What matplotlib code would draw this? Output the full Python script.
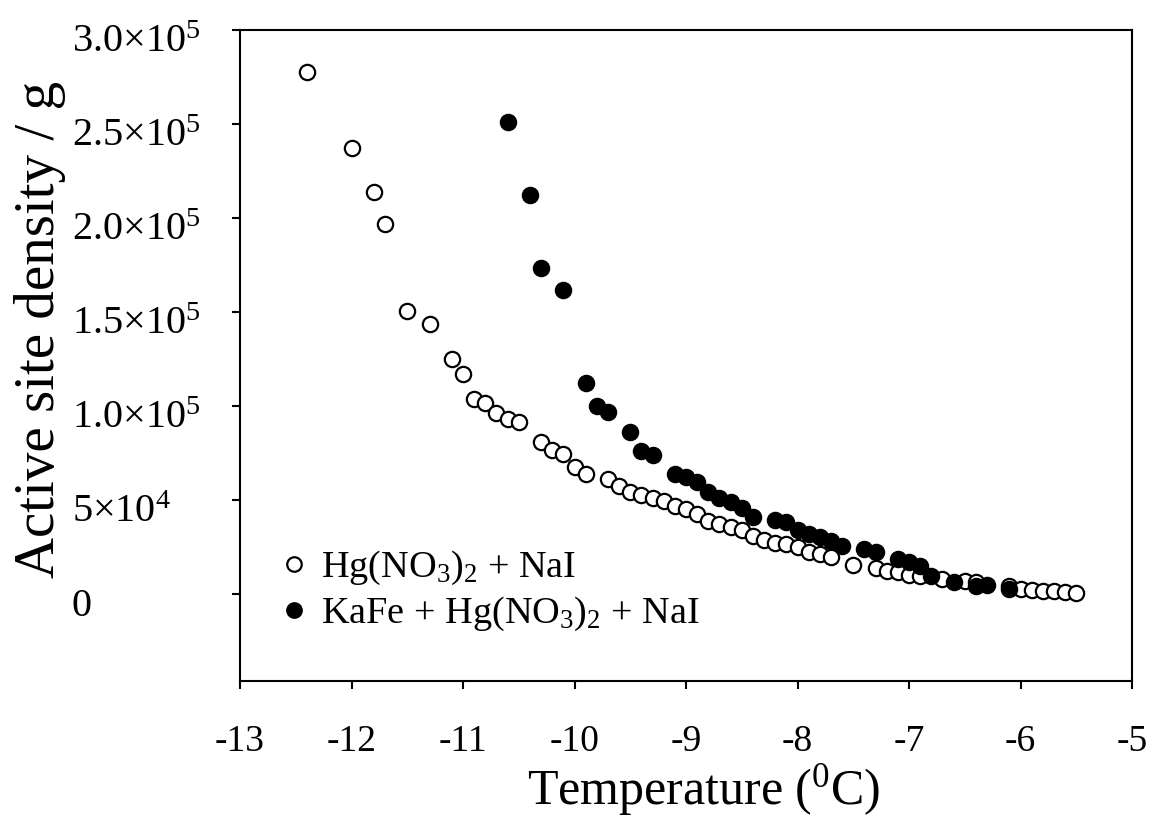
import matplotlib
matplotlib.use("Agg")
import matplotlib.pyplot as plt
import matplotlib.transforms as mtransforms

plt.rcParams['font.family'] = ['Liberation Serif', 'DejaVu Serif']
plt.rcParams['mathtext.fontset'] = 'custom'
plt.rcParams['mathtext.rm'] = 'Liberation Serif'
plt.rcParams['mathtext.it'] = 'Liberation Serif:italic'

# Hg(NO3)2 + NaI  (open circles)
temp_hg = [-12.4, -12.0, -11.8, -11.7, -11.5, -11.3, -11.1, -11.0, -10.9, -10.8,
           -10.7, -10.6, -10.5, -10.3, -10.2, -10.1, -10.0, -9.9, -9.7, -9.6,
           -9.5, -9.4, -9.3, -9.2, -9.1, -9.0, -8.9, -8.8, -8.7, -8.6,
           -8.5, -8.4, -8.3, -8.2, -8.1, -8.0, -7.9, -7.8, -7.7, -7.5,
           -7.3, -7.2, -7.1, -7.0, -6.9, -6.7, -6.5, -6.4, -6.1, -6.0,
           -5.9, -5.8, -5.7, -5.6, -5.5]
dens_hg = [277900, 237500, 214100, 197100, 150400, 144000, 124900, 116900, 104100, 101500,
           96200, 93500, 91400, 80800, 77000, 74400, 67500, 63800, 61100, 57400,
           54700, 53100, 51500, 49400, 46800, 45200, 42500, 38800, 37200, 35600,
           34500, 30800, 29200, 27600, 26600, 25000, 22800, 21300, 19700, 15400,
           14300, 12200, 11700, 10600, 9600, 8000, 6900, 6400, 4300, 2700,
           2100, 1600, 1600, 1100, 700]

# KaFe + Hg(NO3)2 + NaI  (filled circles)
temp_kafe = [-10.6, -10.4, -10.3, -10.1, -9.9, -9.8, -9.7, -9.5, -9.4, -9.3,
             -9.1, -9.0, -8.9, -8.8, -8.7, -8.6, -8.5, -8.4, -8.2, -8.1,
             -8.0, -7.9, -7.8, -7.7, -7.6, -7.4, -7.3, -7.1, -7.0, -6.9,
             -6.8, -6.6, -6.4, -6.3, -6.1]
dens_kafe = [251300, 212500, 173700, 162000, 112600, 99900, 96700, 86600, 76500, 73900,
             63800, 62200, 60000, 54200, 51500, 48900, 46200, 40900, 39800, 38300,
             34500, 31900, 30300, 28200, 25500, 23900, 22300, 18600, 17500, 14900,
             9600, 6400, 4300, 4800, 2700]

yticks = [0, 50000, 100000, 150000, 200000, 250000, 300000]
ytick_labels = ['0', r'5$\times$10$^4$', r'1.0$\times$10$^5$', r'1.5$\times$10$^5$',
                r'2.0$\times$10$^5$', r'2.5$\times$10$^5$', r'3.0$\times$10$^5$']
xticks = [-13, -12, -11, -10, -9, -8, -7, -6, -5]

fig = plt.figure(figsize=(11.53, 8.19), dpi=100)
ax = fig.add_axes([0.2082, 0.1685, 0.7736, 0.7949])

ax.plot(temp_hg, dens_hg, 'o', markersize=11, markerfacecolor='white',
        markeredgecolor='black', markeredgewidth=1.6, label=r'Hg(NO$_3$)$_2$ + NaI')
ax.plot(temp_kafe, dens_kafe, 'o', markersize=11, markerfacecolor='black',
        markeredgecolor='black', markeredgewidth=1.6, label=r'KaFe + Hg(NO$_3$)$_2$ + NaI')

ax.set_xlim(-13, -5)
ax.set_ylim(-46000, 300000)
ax.set_xticks(xticks)
ax.set_xticklabels([str(t) for t in xticks], fontsize=27)
ax.set_yticks(yticks)
ax.set_yticklabels(ytick_labels, fontsize=29, ha='left')

for s in ax.spines.values():
    s.set_linewidth(1.5)
ax.tick_params(axis='both', direction='out', length=6, width=1.5)
ax.tick_params(axis='y', pad=115)
ax.tick_params(axis='x', pad=25)

# y tick labels sit a little lower than their ticks
offset = mtransforms.ScaledTranslation(0, -8 / 100, fig.dpi_scale_trans)
for lab in ax.get_yticklabels():
    lab.set_transform(lab.get_transform() + offset)

ax.set_xlabel(r'Temperature ($^0$C)', fontsize=36)
ax.xaxis.set_label_coords(0.52, -0.125)
ax.set_ylabel('Active site density / g', fontsize=41)
ax.yaxis.set_label_coords(-0.195, 0.54)

ax.legend(loc='lower left', bbox_to_anchor=(0.02, 0.05), frameon=False,
          fontsize=27.5, handletextpad=0.15, labelspacing=0.2, borderaxespad=0,
          handlelength=1.1, markerscale=0.95)

fig.savefig('out.png', dpi=100)
